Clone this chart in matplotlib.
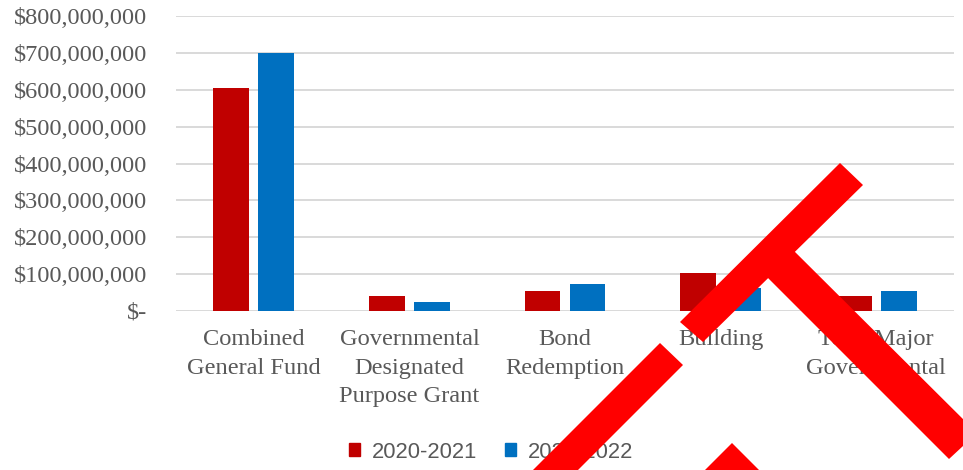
import numpy as np
import matplotlib
matplotlib.use("Agg")
from matplotlib import pyplot as plt
from matplotlib.patches import Patch, Polygon
from matplotlib.ticker import FuncFormatter

categories = ["Combined\nGeneral Fund",
              "Governmental\nDesignated\nPurpose Grant",
              "Bond\nRedemption",
              "Building",
              "Total Major\nGovernmental"]
fy2021 = [606e6, 40e6, 54.5e6, 102e6, 40e6]
fy2022 = [700e6, 25.5e6, 73e6, 62e6, 54.5e6]
series_names = ["2020-2021", "2021-2022"]
series_colors = ["#c00000", "#0070c0"]

W, H = 963, 470
fig = plt.figure(figsize=(W / 100, H / 100), dpi=100)
ax = fig.add_axes([176 / W, 1 - 311 / H, (954 - 176) / W, (311 - 16) / H])

x = np.arange(len(categories))
bw = 0.23
off = 0.144
ax.bar(x - off, fy2021, bw, color=series_colors[0], zorder=3)
ax.bar(x + off, fy2022, bw, color=series_colors[1], zorder=3)

ax.set_xlim(-0.5, len(categories) - 0.5)
ax.set_ylim(0, 800e6)
ax.set_yticks(np.arange(0, 800e6 + 1, 100e6))
ax.yaxis.set_major_formatter(FuncFormatter(lambda v, p: "$-" if v == 0 else f"${v:,.0f}"))
ax.set_xticks(x)
ax.set_xticklabels(categories, linespacing=1.47)
ax.grid(axis="y", color="#d9d9d9", linewidth=1.4, zorder=0)
for s in ax.spines.values():
    s.set_visible(False)
ax.tick_params(axis="both", length=0, colors="#595959", labelsize=17.6)
ax.tick_params(axis="y", pad=21)
ax.tick_params(axis="x", pad=13)
for lbl in ax.get_xticklabels() + ax.get_yticklabels():
    lbl.set_family("Liberation Serif")

handles = [Patch(color=c, label=n) for c, n in zip(series_colors, series_names)]
fig.legend(handles=handles, loc="center", bbox_to_anchor=(491 / W, 1 - 452 / H),
           ncol=2, frameon=False, handlelength=0.5, handleheight=0.5,
           handletextpad=0.55, columnspacing=1.25,
           prop={"family": "Liberation Sans", "size": 15.8}, labelcolor="#595959")

# red strike marks drawn over the chart (pixel corners, y measured from top)
def px(points):
    return [(px_x / W, 1 - px_y / H) for px_x, px_y in points]

strokes = [
    [(840, 163), (863, 185), (703, 342), (680, 322)],
    [(784, 241), (977, 433), (949, 459), (757, 267)],
    [(660, 343), (683, 365), (523, 525), (500, 503)],
    [(732, 443), (790, 501), (674, 501)],
]
for pts in strokes:
    fig.add_artist(Polygon(px(pts), closed=True, transform=fig.transFigure,
                           facecolor="#ff0000", edgecolor="none", zorder=10))

fig.savefig("out.png", dpi=100)
